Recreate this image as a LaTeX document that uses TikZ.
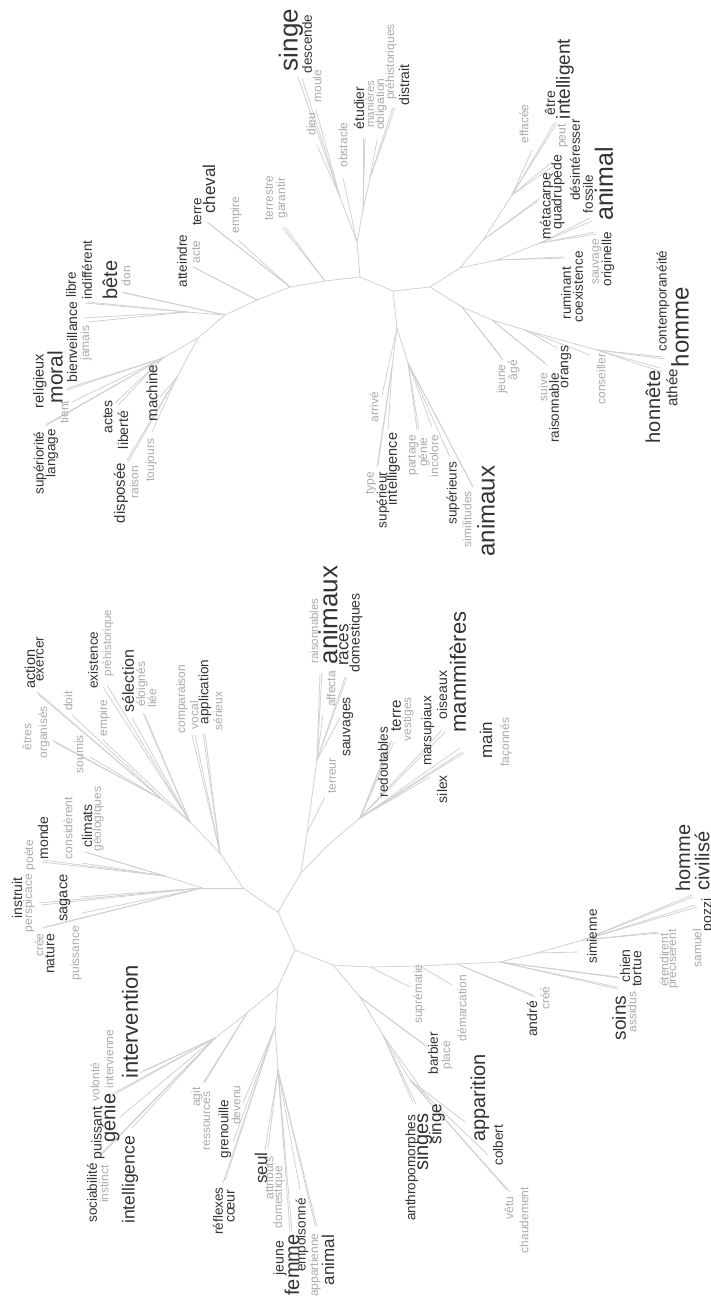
\documentclass[tikz,border=0pt]{standalone}
\usepackage{fontspec}
\setmainfont{Liberation Sans}
\definecolor{lnc}{HTML}{D0D0D0}
\definecolor{dkc}{HTML}{333333}
\definecolor{ltc}{HTML}{ABABAB}
\tikzset{
  br/.style={draw=lnc, line width=0.75pt},
  wd/.style={rotate=90, inner sep=0pt, anchor=center},
  fs/.style={font=\fontsize{#1}{#1}\selectfont},
}
\newcommand\mkw[5]{\node[wd,fs=#3,text=#4] (#1) at (#2) {#5};}
\newcommand\mkl[3]{\coordinate (#2) at (#3); \draw[br] (#1) -- (#2);}
\begin{document}
\begin{tikzpicture}[x=1pt,y=-1pt]
\fill[white] (0,0) rectangle (711,1298);
\useasboundingbox (0,0) rectangle (711,1298);
%% ================= UPPER TREE : internal nodes
\coordinate (U0) at (360,277);
\coordinate (Us1) at (357,242);
\coordinate (Us2) at (340,197);
\coordinate (Ue1) at (363,210);
\coordinate (Ue2) at (370,178);
\coordinate (Ub0) at (393,291);
\coordinate (Ua0) at (430,287);
\coordinate (Ua1) at (460,268);
\coordinate (Ua2) at (483,240);
\coordinate (Ua3) at (512,195);
\coordinate (Ua4) at (497,260);
\coordinate (Ua5) at (540,243);
\coordinate (Uh1) at (462,307);
\coordinate (Uh2) at (492,320);
\coordinate (Uh3) at (525,330);
\coordinate (Uh4) at (597,350);
\coordinate (Ub1) at (397,328);
\coordinate (Ub2) at (392,367);
\coordinate (Ub3) at (408,363);
\coordinate (Ul1) at (325,281);
\coordinate (Ul2) at (290,287);
\coordinate (Ul3) at (257,300);
\coordinate (Ul4) at (225,315);
\coordinate (Ul4a) at (187,312);
\coordinate (Ul5) at (198,338);
\coordinate (Ul6) at (163,358);
\coordinate (Ul7) at (177,377);
\draw[br] (U0) -- (Us1); \draw[br] (Us1) -- (Us2); \draw[br] (Us1) -- (Ue1); \draw[br] (Ue1) -- (Ue2);
\draw[br] (U0) -- (Ub0); \draw[br] (Ub0) -- (Ua0); \draw[br] (Ua0) -- (Ua1); \draw[br] (Ua1) -- (Ua2);
\draw[br] (Ua2) -- (Ua3); \draw[br] (Ua1) -- (Ua4); \draw[br] (Ua4) -- (Ua5);
\draw[br] (Ua0) -- (Uh1); \draw[br] (Uh1) -- (Uh2); \draw[br] (Uh2) -- (Uh3); \draw[br] (Uh3) -- (Uh4);
\draw[br] (Ub0) -- (Ub1); \draw[br] (Ub1) -- (Ub2); \draw[br] (Ub1) -- (Ub3);
\draw[br] (U0) -- (Ul1); \draw[br] (Ul1) -- (Ul2); \draw[br] (Ul2) -- (Ul3); \draw[br] (Ul3) -- (Ul4);
\draw[br] (Ul4) -- (Ul5); \draw[br] (Ul4) -- (Ul4a); \draw[br] (Ul5) -- (Ul6); \draw[br] (Ul5) -- (Ul7);
%% leaves
\mkl{Us2}{lsingeU}{298,77} \mkl{Us2}{ldescende}{302,78} \mkl{Us2}{lmoule}{316,110} \mkl{Us2}{ldieu}{317,145}
\mkl{Us1}{lobstacle}{343,178}
\mkl{Ue1}{letudier}{363,138} \mkl{Ue1}{lmanieres}{365,138}
\mkl{Ue2}{lobligation}{377,140} \mkl{Ue2}{lprehist}{393,107} \mkl{Ue2}{ldistrait}{395,108}
\mkl{Ua3}{leffacee}{532,150} \mkl{Ua3}{letre}{555,122} \mkl{Ua3}{lintelligent}{557,123} \mkl{Ua3}{lpeut}{552,162} \mkl{Ua3}{ldesint}{555,165}
\mkl{Ua2}{lquadrupede}{540,198} \mkl{Ua2}{lmetacarpe}{538,201}
\mkl{Ua5}{lfossile}{590,218} \mkl{Ua5}{lanimalU}{592,221} \mkl{Ua5}{lsauvage}{595,232} \mkl{Ua5}{loriginelle}{597,234}
\mkl{Ua4}{lruminant}{563,257} \mkl{Ua4}{lcoexistence}{565,258}
\mkl{Uh1}{ljeuneU}{502,358} \mkl{Uh1}{lage}{503,360}
\mkl{Uh2}{lsuive}{545,363} \mkl{Uh2}{lraisonnable}{547,365}
\mkl{Uh3}{lorangs}{557,348} \mkl{Uh3}{lconseiller}{590,355}
\mkl{Uh4}{lhonnete}{660,368} \mkl{Uh4}{lathee}{662,372} \mkl{Uh4}{lcontemp}{663,357} \mkl{Uh4}{lhommeU}{665,359}
\mkl{Ub1}{larrive}{382,395}
\mkl{Ub2}{ltype}{377,467} \mkl{Ub2}{lsuperieur}{378,465} \mkl{Ub2}{lintelligenceU}{388,430}
\mkl{Ub3}{lpartage}{417,430} \mkl{Ub3}{lgenieU}{419,430} \mkl{Ub3}{lincolore}{432,427} \mkl{Ub3}{lsuperieurs}{450,457} \mkl{Ub3}{lsimilitudes}{472,485} \mkl{Ub3}{lanimauxU}{473,487}
\mkl{Ul1}{lterrestre}{282,227} \mkl{Ul1}{lgarantir}{285,227}
\mkl{Ul2}{lempireU}{238,240} \mkl{Ul2}{lterreU}{207,222} \mkl{Ul2}{lcheval}{208,223}
\mkl{Ul3}{latteindre}{193,267} \mkl{Ul3}{lacte}{195,268}
\mkl{Ul4}{lbete}{122,292} \mkl{Ul4}{ldon}{124,293}
\mkl{Ul4a}{llibre}{85,303} \mkl{Ul4a}{lindifferent}{88,302} \mkl{Ul4a}{lbienveillance}{83,318} \mkl{Ul4a}{ljamais}{88,322}
\mkl{Ul6}{lreligieux}{67,390} \mkl{Ul6}{lmoral}{68,388} \mkl{Ul6}{ltient}{72,402} \mkl{Ul6}{lsuperiorite}{45,426} \mkl{Ul6}{llangage}{47,424} \mkl{Ul6}{lactes}{115,403} \mkl{Ul6}{lliberte}{118,405}
\mkl{Ul7}{lmachine}{160,397} \mkl{Ul7}{ltoujours}{152,432} \mkl{Ul7}{ldisposee}{127,460} \mkl{Ul7}{lraison}{128,462}
%% words
\mkw{wsingeU}{291,40}{26}{dkc}{singe}
\mkw{wdescende}{307,44}{13.5}{dkc}{descende}
\mkw{wmoule}{317,86}{12}{ltc}{moule}
\mkw{wdieu}{311,124}{12}{ltc}{dieu}
\mkw{wobstacle}{343,145}{12}{ltc}{obstacle}
\mkw{wetudier}{359,108}{14}{dkc}{étudier}
\mkw{wmanieres}{370,104}{11.5}{ltc}{manières}
\mkw{wobligation}{381,104}{12}{ltc}{obligation}
\mkw{wprehistoriques}{391,62}{12}{ltc}{préhistoriques}
\mkw{wdistrait}{404,85}{14}{dkc}{distrait}
\mkw{weffacee}{524,124}{12}{ltc}{effacée}
\mkw{wetre}{550,103}{14}{dkc}{être}
\mkw{wintelligent}{565,79}{19}{dkc}{intelligent}
\mkw{wpeut}{563,136}{12}{ltc}{peut}
\mkw{wdesinteresser}{575,160}{13.5}{dkc}{désintéresser}
\mkw{wquadrupede}{558,192}{14}{dkc}{quadrupède}
\mkw{wmetacarpe}{547,206}{14}{dkc}{métacarpe}
\mkw{wfossile}{588,194}{13.5}{dkc}{fossile}
\mkw{wanimalU}{604,184}{25}{dkc}{animal}
\mkw{wsauvage}{597,262}{12}{ltc}{sauvage}
\mkw{woriginelle}{608,259}{13.5}{dkc}{originelle}
\mkw{wruminant}{566,293}{13.5}{dkc}{ruminant}
\mkw{wcoexistence}{578,287}{13.5}{dkc}{coexistence}
\mkw{wjeuneU}{502,379}{12}{ltc}{jeune}
\mkw{wage}{514,370}{12}{ltc}{âgé}
\mkw{wsuive}{543,387}{12}{ltc}{suive}
\mkw{wraisonnable}{554,408}{13.5}{dkc}{raisonnable}
\mkw{worangs}{566,367}{14}{dkc}{orangs}
\mkw{wconseiller}{601,379}{12}{ltc}{conseiller}
\mkw{whonnete}{653,407}{20}{dkc}{honnête}
\mkw{wathee}{672,388}{15}{dkc}{athée}
\mkw{wcontemp}{663,301}{13.5}{dkc}{contemporanéité}
\mkw{whommeU}{680,327}{24}{dkc}{homme}
\mkw{warrive}{374,407}{12}{ltc}{arrivé}
\mkw{wtype}{371,483}{12}{ltc}{type}
\mkw{wsuperieur}{383,500}{13.5}{dkc}{supérieur}
\mkw{wintelligenceU}{393,469}{14.5}{dkc}{intelligence}
\mkw{wpartage}{413,455}{12}{ltc}{partage}
\mkw{wgenieU}{424,452}{12}{ltc}{génie}
\mkw{wincolore}{434,456}{12}{ltc}{incolore}
\mkw{wsuperieurs}{453,493}{13.5}{dkc}{supérieurs}
\mkw{wsimilitudes}{467,519}{12}{ltc}{similitudes}
\mkw{wanimauxU}{486,511}{24}{dkc}{animaux}
\mkw{wterrestre}{269,198}{12}{ltc}{terrestre}
\mkw{wgarantir}{282,198}{12}{ltc}{garantir}
\mkw{wempireU}{236,215}{12}{ltc}{empire}
\mkw{wterreU}{197,212}{13.5}{dkc}{terre}
\mkw{wcheval}{209,189}{17}{dkc}{cheval}
\mkw{watteindre}{182,261}{13.5}{dkc}{atteindre}
\mkw{wacte}{196,252}{12}{ltc}{acte}
\mkw{wlibre}{71,285}{13.5}{dkc}{libre}
\mkw{windifferent}{87,270}{13.5}{dkc}{indifférent}
\mkw{wbete}{110,280}{20}{dkc}{bête}
\mkw{wdon}{126,276}{12}{ltc}{don}
\mkw{wbienveillance}{72,342}{14}{dkc}{bienveillance}
\mkw{wjamais}{86,343}{12}{ltc}{jamais}
\mkw{wreligieux}{40,381}{14.5}{dkc}{religieux}
\mkw{wmoral}{55,377}{21}{dkc}{moral}
\mkw{wtient}{64,412}{12}{ltc}{tient}
\mkw{wsuperiorite}{40,463}{13.5}{dkc}{supériorité}
\mkw{wlangage}{52,453}{13.5}{dkc}{langage}
\mkw{wactes}{108,417}{14}{dkc}{actes}
\mkw{wliberte}{123,430}{14}{dkc}{liberté}
\mkw{wmachine}{152,393}{15}{dkc}{machine}
\mkw{wdisposee}{121,493}{15}{dkc}{disposée}
\mkw{wraison}{134,482}{12}{ltc}{raison}
\mkw{wtoujours}{151,460}{12}{ltc}{toujours}
%% ================= LOWER TREE : internal nodes
\coordinate (L0) at (278,912);
\coordinate (L1) at (243,888);
\coordinate (L1a) at (202,888);
\coordinate (L1f) at (165,876);
\coordinate (L1b) at (220,853);
\coordinate (L1c) at (190,822);
\coordinate (L1d) at (163,800);
\coordinate (L2) at (301,873);
\coordinate (L2a) at (307,833);
\coordinate (L2b) at (317,760);
\coordinate (L2c) at (328,845);
\coordinate (L2d) at (360,818);
\coordinate (L3) at (295,950);
\coordinate (L4) at (333,965);
\coordinate (L4a) at (370,967);
\coordinate (L4b) at (420,966);
\coordinate (L4c) at (457,964);
\coordinate (L4d) at (500,962);
\coordinate (L4e) at (537,953);
\coordinate (L4g) at (583,940);
\coordinate (L5) at (278,987);
\coordinate (L5a) at (247,1013);
\coordinate (L5b) at (215,1038);
\coordinate (L5c) at (275,1027);
\coordinate (L5d) at (278,1070);
\coordinate (L6) at (360,997);
\coordinate (L6a) at (383,1035);
\coordinate (L6b) at (410,1080);
\draw[br] (L0) -- (L1); \draw[br] (L1) -- (L1a); \draw[br] (L1a) -- (L1f); \draw[br] (L1) -- (L1b);
\draw[br] (L1b) -- (L1c); \draw[br] (L1c) -- (L1d);
\draw[br] (L0) -- (L2); \draw[br] (L2) -- (L2a); \draw[br] (L2a) -- (L2b); \draw[br] (L2) -- (L2c); \draw[br] (L2c) -- (L2d);
\draw[br] (L0) -- (L3); \draw[br] (L3) -- (L4); \draw[br] (L4) -- (L4a); \draw[br] (L4a) -- (L4b);
\draw[br] (L4b) -- (L4c); \draw[br] (L4c) -- (L4d); \draw[br] (L4d) -- (L4e); \draw[br] (L4e) -- (L4g);
\draw[br] (L3) -- (L5); \draw[br] (L5) -- (L5a); \draw[br] (L5a) -- (L5b); \draw[br] (L5) -- (L5c); \draw[br] (L5c) -- (L5d);
\draw[br] (L4) -- (L6); \draw[br] (L6) -- (L6a); \draw[br] (L6a) -- (L6b);
%% leaves
\mkl{L1a}{linstruit}{39,903} \mkl{L1a}{lperspicace}{41,905} \mkl{L1a}{lsagace}{80,897} \mkl{L1a}{lcree}{43,928} \mkl{L1a}{lnature}{45,927} \mkl{L1a}{lpuissance}{82,913}
\mkl{L1f}{lpoete}{42,862} \mkl{L1f}{lmonde}{43,860} \mkl{L1f}{lconsiderent}{82,863} \mkl{L1f}{lclimats}{85,852} \mkl{L1f}{lgeologiques}{88,853}
\mkl{L1b}{lcomparaison}{192,735} \mkl{L1b}{lvocal}{195,735} \mkl{L1b}{lapplication}{203,733} \mkl{L1b}{lserieux}{205,733}
\mkl{L1c}{lselection}{132,718} \mkl{L1c}{leloignes}{143,713} \mkl{L1c}{lliee}{145,715} \mkl{L1c}{lexistence}{103,687} \mkl{L1c}{lprehistorique}{107,685} \mkl{L1c}{lempireL}{103,740}
\mkl{L1d}{laction}{37,692} \mkl{L1d}{lexercer}{38,694} \mkl{L1d}{ldoit}{72,715} \mkl{L1d}{letres}{52,740} \mkl{L1d}{lorganises}{54,742} \mkl{L1d}{lsoumis}{90,757}
\mkl{L2a}{lterreur}{325,797}
\mkl{L2b}{lraisonnables}{320,673} \mkl{L2b}{lanimauxL}{322,672} \mkl{L2b}{laffecta}{323,715} \mkl{L2b}{lraces}{345,677} \mkl{L2b}{ldomestiques}{347,677} \mkl{L2b}{lsauvages}{340,718}
\mkl{L2d}{lredoutables}{390,742} \mkl{L2d}{lterreL}{392,740} \mkl{L2d}{lvestiges}{394,742} \mkl{L2d}{lmarsupiaux}{442,730} \mkl{L2d}{loiseaux}{445,732} \mkl{L2d}{lsilex}{430,777} \mkl{L2d}{lmammiferes}{460,748} \mkl{L2d}{lmain}{462,752} \mkl{L2d}{lfaconnes}{464,753}
\mkl{L4a}{lsupremat}{410,987}
\mkl{L4b}{ldemarcation}{452,985}
\mkl{L4c}{landre}{533,995} \mkl{L4c}{lcreeL}{535,997}
\mkl{L4d}{lchien}{618,977} \mkl{L4d}{ltortue}{620,978} \mkl{L4d}{lsoins}{617,987} \mkl{L4d}{lassidus}{618,989}
\mkl{L4e}{lsimienne}{578,952}
\mkl{L4g}{letendirent}{658,932} \mkl{L4g}{lprecis}{660,933} \mkl{L4g}{lhommeL}{692,895} \mkl{L4g}{lcivilise}{693,897} \mkl{L4g}{lsamuel}{695,905} \mkl{L4g}{lpozzi}{697,907}
\mkl{L5b}{lintervention}{140,1073} \mkl{L5b}{lintervienne}{143,1071} \mkl{L5b}{lvolonte}{112,1094} \mkl{L5b}{lgenieL}{120,1117} \mkl{L5b}{lpuissant}{110,1097} \mkl{L5b}{lintelligenceL}{132,1128} \mkl{L5b}{lsociabilite}{100,1155} \mkl{L5b}{linstinct}{103,1153}
\mkl{L5a}{lagit}{203,1083} \mkl{L5a}{lressources}{205,1082}
\mkl{L5c}{ldevenu}{243,1103} \mkl{L5c}{lgrenouille}{233,1142} \mkl{L5c}{lreflexes}{223,1183} \mkl{L5c}{lcoeur}{225,1181}
\mkl{L5d}{lseul}{265,1150} \mkl{L5d}{lattributs}{268,1148} \mkl{L5d}{ldomestique}{285,1150} \mkl{L5d}{ljeuneL}{290,1232} \mkl{L5d}{lfemme}{292,1232} \mkl{L5d}{lempoisonne}{300,1190} \mkl{L5d}{lappartienne}{315,1225} \mkl{L5d}{lanimalL}{317,1227}
\mkl{L6}{lbarbier}{425,1045} \mkl{L6}{lplace}{427,1047}
\mkl{L6a}{lanthropo}{413,1103} \mkl{L6a}{lsinges}{416,1104} \mkl{L6a}{lsingeL}{428,1098}
\mkl{L6b}{lapparition}{465,1122} \mkl{L6b}{lcolbert}{488,1155} \mkl{L6b}{lvetu}{507,1190} \mkl{L6b}{lchaudement}{510,1192}
%% words
\mkw{waction}{30,669}{14.5}{dkc}{action}
\mkw{wexercer}{40,659}{13.5}{dkc}{exercer}
\mkw{wdoit}{68,701}{12}{ltc}{doit}
\mkw{wetres}{27,737}{12}{ltc}{êtres}
\mkw{worganises}{44,732}{12}{ltc}{organisés}
\mkw{wsoumis}{79,754}{12}{ltc}{soumis}
\mkw{wempireL}{104,718}{12}{ltc}{empire}
\mkw{wexistence}{93,660}{13.5}{dkc}{existence}
\mkw{wprehistorique}{108,643}{11.5}{ltc}{préhistorique}
\mkw{wselection}{128,681}{16}{dkc}{sélection}
\mkw{weloignes}{142,684}{12}{ltc}{éloignés}
\mkw{wliee}{152,698}{12}{ltc}{liée}
\mkw{wcomparaison}{182,699}{12}{ltc}{comparaison}
\mkw{wvocal}{194,715}{12}{ltc}{vocal}
\mkw{wapplication}{205,692}{13.5}{dkc}{application}
\mkw{wserieux}{218,711}{12}{ltc}{sérieux}
\mkw{wmonde}{43,838}{14}{dkc}{monde}
\mkw{wpoete}{30,855}{12}{ltc}{poète}
\mkw{wconsiderent}{68,828}{12}{ltc}{considèrent}
\mkw{wclimats}{87,826}{14}{dkc}{climats}
\mkw{wgeologiques}{98,819}{12}{ltc}{géologiques}
\mkw{winstruit}{17,898}{14}{dkc}{instruit}
\mkw{wperspicace}{29,903}{12}{ltc}{perspicace}
\mkw{wsagace}{65,898}{14.5}{dkc}{sagace}
\mkw{wcree}{39,945}{12}{ltc}{crée}
\mkw{wnature}{50,954}{14}{dkc}{nature}
\mkw{wpuissance}{76,953}{12}{ltc}{puissance}
\mkw{wraisonnables}{314,631}{11.5}{ltc}{raisonnables}
\mkw{wanimauxL}{328,615}{26}{dkc}{animaux}
\mkw{wraces}{344,645}{17}{dkc}{races}
\mkw{wdomestiques}{356,633}{14}{dkc}{domestiques}
\mkw{waffecta}{331,689}{12}{ltc}{affecta}
\mkw{wsauvages}{348,727}{14}{dkc}{sauvages}
\mkw{wterreur}{332,776}{12}{ltc}{terreur}
\mkw{wredoutables}{383,762}{13.5}{dkc}{redoutables}
\mkw{wterreL}{396,716}{15}{dkc}{terre}
\mkw{wvestiges}{408,719}{12}{ltc}{vestiges}
\mkw{wmarsupiaux}{428,731}{13.5}{dkc}{marsupiaux}
\mkw{woiseaux}{442,695}{14}{dkc}{oiseaux}
\mkw{wmammiferes}{458,672}{22}{dkc}{mammifères}
\mkw{wsilex}{442,789}{14}{dkc}{silex}
\mkw{wmain}{486,740}{17}{dkc}{main}
\mkw{wfaconnes}{506,742}{12}{ltc}{façonnés}
\mkw{wintervention}{130,1022}{22}{dkc}{intervention}
\mkw{wvolonte}{95,1082}{12}{ltc}{volonté}
\mkw{wintervienne}{109,1059}{12}{ltc}{intervienne}
\mkw{wpuissant}{98,1133}{14}{dkc}{puissant}
\mkw{wgenieL}{110,1118}{20}{dkc}{génie}
\mkw{wsociabilite}{92,1193}{13.5}{dkc}{sociabilité}
\mkw{winstinct}{104,1184}{12}{ltc}{instinct}
\mkw{wintelligenceL}{130,1180}{17.5}{dkc}{intelligence}
\mkw{wagit}{197,1097}{12}{ltc}{agit}
\mkw{wressources}{207,1121}{12}{ltc}{ressources}
\mkw{wgrenouille}{225,1129}{13.5}{dkc}{grenouille}
\mkw{wdevenu}{236,1105}{12}{ltc}{devenu}
\mkw{wreflexes}{218,1211}{13.5}{dkc}{réflexes}
\mkw{wcoeur}{231,1206}{14}{dkc}{cœur}
\mkw{wseul}{261,1168}{17}{dkc}{seul}
\mkw{wattributs}{269,1178}{12}{ltc}{attributs}
\mkw{wdomestique}{279,1197}{12}{ltc}{domestique}
\mkw{wjeuneL}{280,1258}{14}{dkc}{jeune}
\mkw{wfemme}{292,1265}{20}{dkc}{femme}
\mkw{wempoisonne}{302,1235}{13.5}{dkc}{empoisonné}
\mkw{wappartienne}{315,1265}{12}{ltc}{appartienne}
\mkw{wanimalL}{328,1260}{17}{dkc}{animal}
\mkw{wsupremat}{419,994}{12}{ltc}{suprématie}
\mkw{wdemarcation}{462,1008}{12}{ltc}{démarcation}
\mkw{wbarbier}{433,1053}{13.5}{dkc}{barbier}
\mkw{wplace}{447,1055}{12}{ltc}{place}
\mkw{wapparition}{480,1098}{20}{dkc}{apparition}
\mkw{wcolbert}{498,1145}{13.5}{dkc}{colbert}
\mkw{wanthropo}{412,1168}{13.5}{dkc}{anthropomorphes}
\mkw{wsinges}{423,1142}{20}{dkc}{singes}
\mkw{wsingeL}{437,1124}{17}{dkc}{singe}
\mkw{wvetu}{509,1208}{12}{ltc}{vêtu}
\mkw{wchaudement}{524,1220}{12}{ltc}{chaudement}
\mkw{wandre}{532,1019}{14}{dkc}{andré}
\mkw{wcreeL}{545,998}{12}{ltc}{créé}
\mkw{wsoins}{619,1018}{19}{dkc}{soins}
\mkw{wassidus}{632,1012}{12}{ltc}{assidus}
\mkw{wsimienne}{592,936}{13.5}{dkc}{simienne}
\mkw{wchien}{625,966}{14}{dkc}{chien}
\mkw{wtortue}{637,969}{14}{dkc}{tortue}
\mkw{wetendirent}{664,960}{12}{ltc}{étendirent}
\mkw{wprecis}{673,959}{12}{ltc}{précisèrent}
\mkw{wsamuel}{697,948}{12}{ltc}{samuel}
\mkw{wpozzi}{708,915}{14}{dkc}{pozzi}
\mkw{whommeL}{683,858}{20}{dkc}{homme}
\mkw{wcivilise}{702,861}{20}{dkc}{civilisé}
\end{tikzpicture}
\end{document}
